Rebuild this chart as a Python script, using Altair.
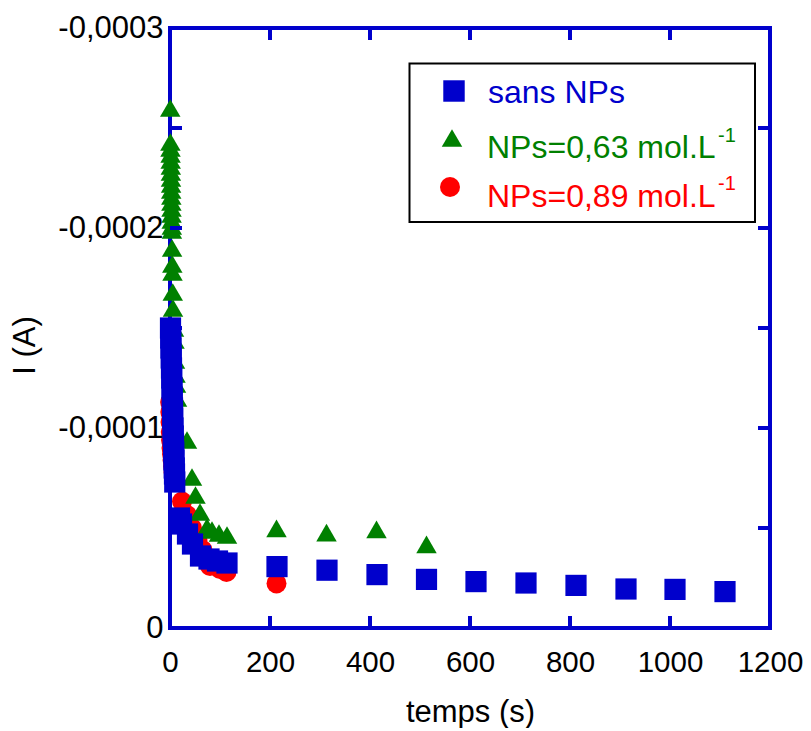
import altair as alt
import pandas as pd

BLUE = "#0000CC"
GREEN = "#008000"
RED = "#FF0000"
FONT = "Liberation Sans"

# ---- data (time in s, |I| in units of 1e-4 A; plotted as negative currents) ----
blue_t = [1, 1.5, 2, 2.5, 3, 3.5, 4, 4.5, 5, 5.5, 6, 6.5, 7, 7.5, 8, 8.5, 9, 9.5,
          19, 23, 35, 45, 61, 78, 95, 114,
          214, 314, 414, 513, 612, 712, 812, 912, 1010, 1110]
blue_I = [1.50, 1.45, 1.40, 1.35, 1.30, 1.25, 1.20, 1.15, 1.10, 1.05, 1.00, 0.96, 0.92, 0.88, 0.84, 0.80, 0.77, 0.73,
          0.55, 0.52, 0.47, 0.42, 0.36, 0.345, 0.335, 0.325,
          0.307, 0.289, 0.267, 0.243, 0.232, 0.225, 0.213, 0.195, 0.193, 0.182]

green_t = [0.5, 0.8, 1.0, 1.2, 1.4, 1.6, 1.8, 2.0, 2.2, 2.4, 2.6, 2.8, 3.0, 3.2, 3.4, 3.6, 3.8,
           4.2, 4.6, 5, 5.5, 6, 8, 9, 10, 11, 12, 14,
           34, 44, 51, 60, 74, 84, 98, 114, 213, 313, 413, 513]
green_I = [2.60, 2.43, 2.40, 2.37, 2.34, 2.31, 2.28, 2.25, 2.22, 2.19, 2.16, 2.13, 2.10, 2.07, 2.04, 2.01, 1.99,
           1.90, 1.82, 1.78, 1.68, 1.60, 1.50, 1.44, 1.34, 1.27, 1.22, 1.15,
           0.94, 0.755, 0.665, 0.58, 0.505, 0.49, 0.475, 0.465, 0.498, 0.477, 0.493, 0.418]

red_t = [0.3, 0.6, 1, 1.5, 2, 3, 4, 5, 6, 7, 8, 9,
         24, 34, 44, 55, 65, 80, 100, 113, 213]
red_I = [1.13, 1.08, 1.03, 0.98, 0.94, 0.90, 0.87, 0.84, 0.81, 0.78, 0.76, 0.74,
         0.632, 0.565, 0.50, 0.44, 0.39, 0.31, 0.295, 0.28, 0.223]

series_labels = ["sans NPs", "NPs=0,63 mol.L", "NPs=0,89 mol.L"]
superscript = "-1"

x_ticks = [0, 200, 400, 600, 800, 1000, 1200]
y_ticks = [0, -0.0001, -0.0002, -0.0003]
x_minor = [200, 400, 600, 800, 1000]
y_minor = [-0.00005, -0.0001, -0.00015, -0.0002, -0.00025]


def frame(ts, vals):
    return pd.DataFrame({"t": ts, "I": [-v * 1e-4 for v in vals]})


df_blue = frame(blue_t, blue_I)
df_green = frame(green_t, green_I)
df_red = frame(red_t, red_I)

xs = alt.Scale(domain=[0, 1200], nice=False, zero=False)
ys = alt.Scale(domain=[0, -0.0003], nice=False, zero=False)

x_axis = alt.Axis(values=x_ticks, format="d", domain=False, ticks=False, grid=False,
                  labelFont=FONT, labelFontSize=29.5, labelColor="black", labelPadding=20,
                  labelFlush=False, labelOverlap=False,
                  title="temps (s)", titleFont=FONT, titleFontSize=31, titleFontWeight="normal",
                  titleColor="black", titleBaseline="top", titleY=69)
y_axis = alt.Axis(values=y_ticks,
                  labelExpr="datum.value == 0 ? '0' : '-' + replace(format(abs(datum.value), '.4f'), '.', ',')",
                  domain=False, ticks=False, grid=False, zindex=1,
                  labelFont=FONT, labelFontSize=31, labelColor="black", labelPadding=7,
                  labelFlush=False, labelOverlap=False,
                  title="I (A)", titleFont=FONT, titleFontSize=31, titleFontWeight="normal",
                  titleColor="black", titleAngle=270, titleAlign="center", titleBaseline="middle",
                  titleX=-145, titleY=317)

X = alt.X("t:Q", scale=xs, axis=x_axis)
Y = alt.Y("I:Q", scale=ys, axis=y_axis)

red_layer = alt.Chart(df_red).mark_point(shape="circle", filled=True, size=400, color=RED, opacity=1).encode(x=X, y=Y)
green_layer = alt.Chart(df_green).mark_point(shape="triangle-up", filled=True, size=420, color=GREEN, opacity=1).encode(x=X, y=Y)
blue_layer = alt.Chart(df_blue).mark_point(shape="square", filled=True, size=450, color=BLUE, opacity=1).encode(x=X, y=Y)

xt = pd.DataFrame({"t": x_minor})
yt = pd.DataFrame({"I": y_minor})
tick_bottom = alt.Chart(xt).mark_rule(color=BLUE, strokeWidth=4).encode(x=X, y=alt.value(600), y2=alt.value(588))
tick_top = alt.Chart(xt).mark_rule(color=BLUE, strokeWidth=4).encode(x=X, y=alt.value(0), y2=alt.value(12))
tick_left = alt.Chart(yt).mark_rule(color=BLUE, strokeWidth=4).encode(y=Y, x=alt.value(0), x2=alt.value(12))
tick_right = alt.Chart(yt).mark_rule(color=BLUE, strokeWidth=4).encode(y=Y, x=alt.value(600), x2=alt.value(588))

one = pd.DataFrame({"k": [0]})
leg_box = alt.Chart(one).mark_rect(fill="white", stroke="black", strokeWidth=2).encode(
    x=alt.value(239.5), x2=alt.value(585), y=alt.value(35.5), y2=alt.value(194))
leg_sq = alt.Chart(one).mark_point(shape="square", filled=True, size=460, color=BLUE, opacity=1).encode(
    x=alt.value(284), y=alt.value(63))
leg_tri = alt.Chart(one).mark_point(shape="triangle-up", filled=True, size=420, color=GREEN, opacity=1).encode(
    x=alt.value(282), y=alt.value(110))
leg_cir = alt.Chart(one).mark_point(shape="circle", filled=True, size=400, color=RED, opacity=1).encode(
    x=alt.value(280), y=alt.value(159))

LFS = 32
leg_t1 = alt.Chart(one).mark_text(text=series_labels[0], align="left", baseline="alphabetic", font=FONT,
                                  fontSize=LFS, color=BLUE).encode(x=alt.value(318), y=alt.value(75))
leg_t2 = alt.Chart(one).mark_text(text=series_labels[1], align="left", baseline="alphabetic", font=FONT,
                                  fontSize=LFS, color=GREEN).encode(x=alt.value(317), y=alt.value(129.5))
leg_t3 = alt.Chart(one).mark_text(text=series_labels[2], align="left", baseline="alphabetic", font=FONT,
                                  fontSize=LFS, color=RED).encode(x=alt.value(317), y=alt.value(178.5))
leg_s2 = alt.Chart(one).mark_text(text=superscript, align="left", baseline="alphabetic", font=FONT,
                                  fontSize=20, color=GREEN).encode(x=alt.value(548), y=alt.value(113.5))
leg_s3 = alt.Chart(one).mark_text(text=superscript, align="left", baseline="alphabetic", font=FONT,
                                  fontSize=20, color=RED).encode(x=alt.value(548), y=alt.value(162))

chart = alt.layer(
    red_layer, green_layer, blue_layer,
    tick_bottom, tick_top, tick_left, tick_right,
    leg_box, leg_sq, leg_tri, leg_cir, leg_t1, leg_t2, leg_t3, leg_s2, leg_s3,
).properties(
    width=600, height=600,
    autosize=alt.AutoSizeParams(type="none"),
    padding={"left": 162, "top": 20, "right": 33, "bottom": 100},
    background="white",
).configure_view(stroke=BLUE, strokeWidth=4)

chart.save("out.html", embed_options={"renderer": "svg", "actions": False})
